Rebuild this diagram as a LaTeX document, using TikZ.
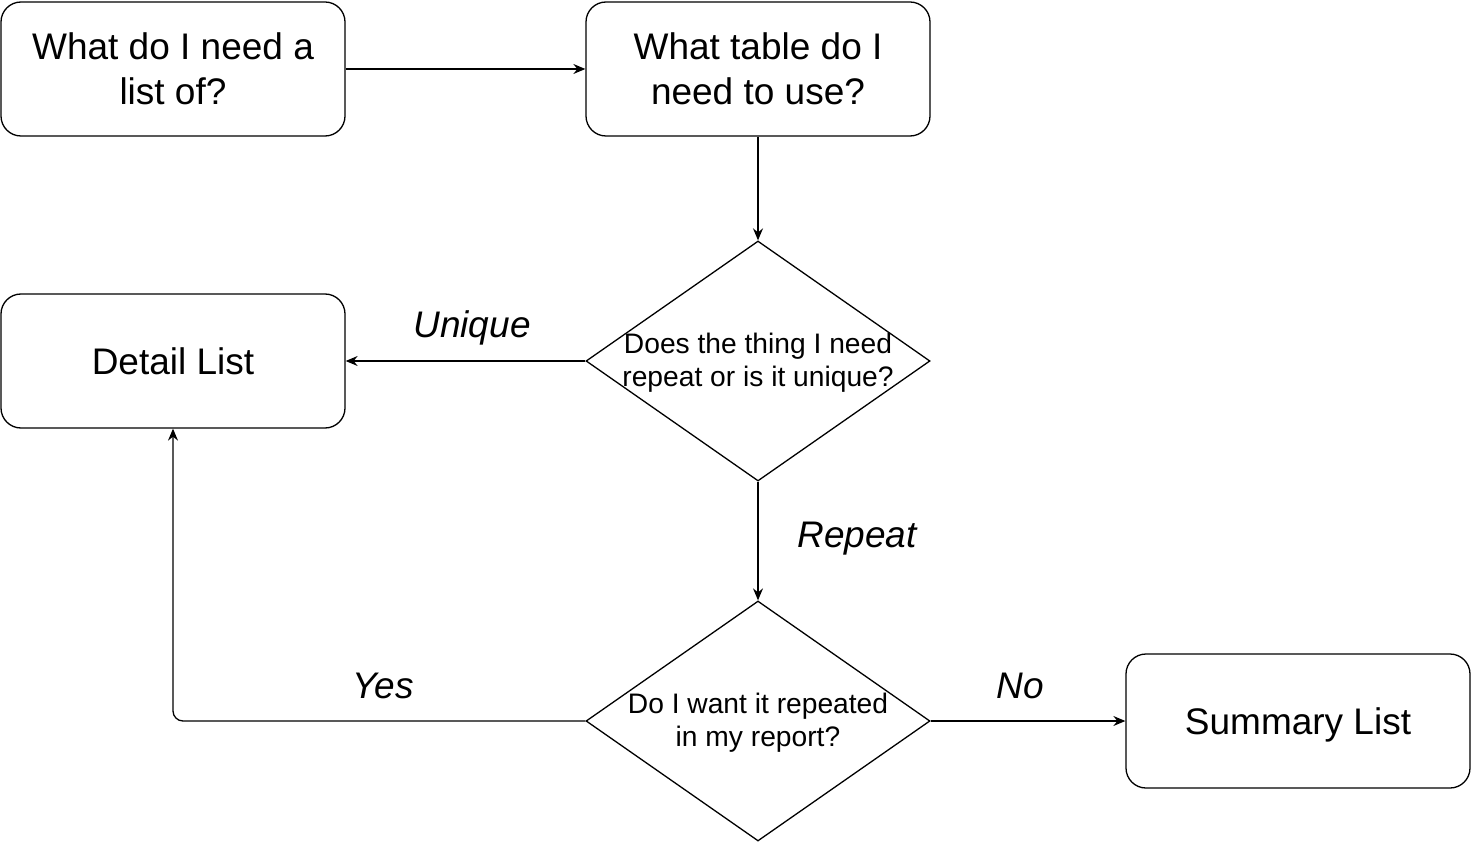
\documentclass[tikz,border=0pt]{standalone}
\usepackage{fontspec}
\setmainfont{Liberation Sans}
\usetikzlibrary{shapes.geometric,arrows.meta}
\begin{document}
\begin{tikzpicture}[x=1pt,y=-1pt,
 box/.style={draw, rounded corners=20pt, minimum width=344pt, minimum height=134pt, inner sep=0pt, align=center, font=\fontsize{37}{45}\selectfont, line width=1.3pt},
 dia/.style={draw, diamond, minimum width=344pt, minimum height=240pt, inner sep=0pt, line width=1.3pt},
 dtext/.style={align=center, font=\fontsize{28.2}{33}\selectfont},
 lbl/.style={font=\fontsize{37}{45}\selectfont\itshape},
 arr/.style={line width=1.3pt, -{Stealth[length=12pt,width=10pt,inset=4pt]}}]
\useasboundingbox (0,0) rectangle (1472,842);
\node[box] (a) at (173,69) {What do I need a\\list of?};
\node[box] (b) at (758,69) {What table do I\\need to use?};
\node[dia] (c) at (758,361) {};
\node[dtext] (ct) at (758,363) {Does the thing I need\\repeat or is it unique?};
\node[box, text depth=0pt] (d) at (173,361) {Detail List};
\node[dia] (e) at (758,721) {};
\node[dtext] (et) at (758,723) {Do I want it repeated\\in my report?};
\node[box, text depth=0pt] (f) at (1298,721) {Summary List};
\draw[arr] (a) -- (b);
\draw[arr] (b) -- (c);
\draw[arr] (c) -- (d);
\draw[arr] (c) -- (e);
\draw[arr, rounded corners=10pt] (e.west) -| (d.south);
\draw[arr] (e) -- (f);
\node[lbl] (lu) at (472,328) {Unique};
\node[lbl] (lr) at (857,539) {Repeat};
\node[lbl] (ly) at (383,686) {Yes};
\node[lbl] (ln) at (1020,686) {No};
\end{tikzpicture}
\end{document}
